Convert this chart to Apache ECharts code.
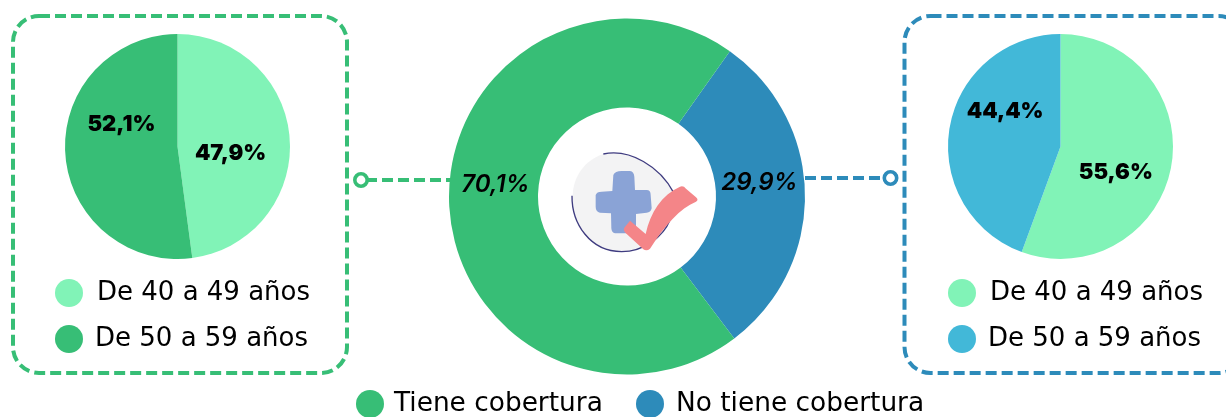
<!DOCTYPE html>
<html>
<head>
<meta charset="utf-8">
<style>html,body{margin:0;padding:0;background:#fff}#c{width:1226px;height:417px}</style>
<script src="https://cdn.jsdelivr.net/npm/echarts@6/dist/echarts.min.js"></script>
</head>
<body>
<div id="c"></div>
<script>
const coverageNames = ['No tiene cobertura', 'Tiene cobertura'];
const coverageValues = [29.9, 70.1];
const ageNames = ['De 40 a 49 años', 'De 50 a 59 años'];
const leftAgeValues = [47.9, 52.1];
const rightAgeValues = [55.6, 44.4];

const GREEN = '#37be76', LIGHT = '#81f3b7', BLUE = '#2d8bba', CYAN = '#42b8d8';
const FONT = 'Inter, "Noto Sans", sans-serif';
const LEGEND_FONT = '"DejaVu Sans", sans-serif';
const fmt = p => p.value.toFixed(1).replace('.', ',') + '%';

function pieSeries(names, values, colors, offsets, center, radius, startAngle, labelStyle) {
  return {
    type: 'pie', center, radius, startAngle, clockwise: true, silent: true,
    animation: false, avoidLabelOverlap: false, labelLine: { show: false },
    emphasis: { disabled: true },
    data: names.map((name, i) => ({
      name, value: values[i],
      itemStyle: { color: colors[i] },
      label: Object.assign({ show: true, position: 'inside', formatter: fmt, color: '#000', fontFamily: FONT, offset: offsets[i] }, labelStyle)
    }))
  };
}
function legend(name, color, left, top, gap, size) {
  return {
    show: true, left, top, padding: 0, orient: 'horizontal', selectedMode: false,
    icon: 'circle', itemWidth: 28, itemHeight: 28,
    textStyle: { fontFamily: LEGEND_FONT, fontSize: size, color: '#000', padding: [3, 0, 0, gap] },
    data: [{ name, itemStyle: { color } }]
  };
}
function dashedBox(x, y, width, height, color) {
  return { type: 'rect', z: 1, shape: { x, y, width, height, r: 26 },
    style: { fill: 'none', stroke: color, lineWidth: 4, lineDash: [11, 5] } };
}
function connector(x1, x2, y, ringX, color) {
  return [
    { type: 'line', z: 5, shape: { x1, y1: y, x2, y2: y }, style: { stroke: color, lineWidth: 4, lineDash: [11, 5] } },
    { type: 'circle', z: 6, shape: { cx: ringX, cy: y, r: 6.2 }, style: { fill: '#fff', stroke: color, lineWidth: 3.6 } }
  ];
}
const iconPaths = {
  iconBlob: 'M220,132 C300,115 390,170 425,235 C440,280 420,340 390,380 C350,420 290,430 235,420 C170,405 128,340 128,260 C128,200 165,150 220,132 Z',
  iconLineA: 'M220,132 C300,115 390,170 431,248',
  iconLineB: 'M126,257 C125,340 180,425 275,425 C340,425 400,380 420,330',
  iconPlus: 'M250,195 Q255,183 275,183 L300,183 Q312,185 313,200 L315,240 L350,240 Q362,240 362,255 L365,295 Q362,308 350,308 L318,312 L318,360 Q312,370 295,370 L255,370 Q245,368 244,355 L243,310 L210,308 Q197,305 197,290 L197,255 Q200,245 215,245 L247,243 Z',
  iconCheck: 'M300,332 L347,372 C362,305 395,255 450,230 Q460,226 468,236 L498,262 Q507,270 498,275 C450,295 405,345 360,416 Q350,425 340,418 L286,368 Q278,360 284,352 Z'
};
Object.keys(iconPaths).forEach(k => echarts.graphic.registerShape(k, echarts.graphic.extendPath(iconPaths[k])));
const icon = {
  type: 'group', x: 530, y: 110, scaleX: 1 / 3, scaleY: 1 / 3, z: 10, silent: true,
  children: [
    { type: 'iconBlob', style: { fill: '#f3f3f4' } },
    { type: 'iconLineA', style: { fill: 'none', stroke: '#3f3c80', lineWidth: 4 } },
    { type: 'iconLineB', style: { fill: 'none', stroke: '#3f3c80', lineWidth: 4 } },
    { type: 'iconPlus', style: { fill: '#8aa3d6' } },
    { type: 'iconCheck', style: { fill: '#f48588' } }
  ]
};

const chart = echarts.init(document.getElementById('c'), null, { renderer: 'canvas' });
chart.setOption({
  animation: false,
  backgroundColor: '#fff',
  legend: [
    legend(ageNames[0], LIGHT, 55, 279, 9, 26),
    legend(ageNames[1], GREEN, 55, 325, 7, 26),
    legend(ageNames[0], LIGHT, 948, 279, 9, 26),
    legend(ageNames[1], CYAN, 948, 325, 7, 26),
    legend(coverageNames[1], GREEN, 356, 390, 5, 26.4),
    legend(coverageNames[0], BLUE, 636, 390, 7, 26.4)
  ],
  series: [
    pieSeries(coverageNames, coverageValues, [BLUE, GREEN], [[-4, -12], [5, -14]], [627, 196.5], [89, 178], 54.7,
      { fontSize: 24, fontWeight: 600, fontStyle: 'italic' }),
    pieSeries(ageNames, leftAgeValues, [LIGHT, GREEN], [[-6, 11], [3, -26]], [177.5, 146.5], [0, 112.5], 90,
      { fontSize: 22, fontWeight: 900 }),
    pieSeries(ageNames, rightAgeValues, [LIGHT, CYAN], [[-3, 16], [3, -25]], [1060.5, 146.5], [0, 112.5], 90,
      { fontSize: 22, fontWeight: 900 })
  ],
  graphic: {
    elements: [
      dashedBox(13, 16, 334, 357, GREEN),
      dashedBox(904.5, 16, 340, 357, BLUE),
      ...connector(366, 452, 180, 361, GREEN),
      ...connector(805, 885, 178, 890.5, BLUE),
      icon
    ]
  }
});
</script>
</body>
</html>
